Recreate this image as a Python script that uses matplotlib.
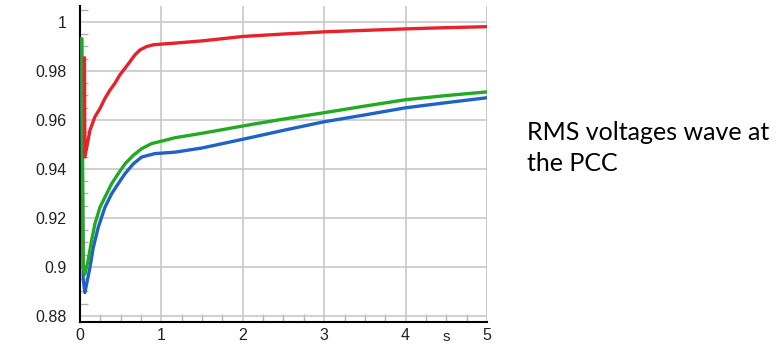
import numpy as np
import matplotlib.pyplot as plt
from matplotlib.ticker import MultipleLocator
from matplotlib.transforms import blended_transform_factory

# time points (s) and RMS voltages
t_red = [0.055, 0.061, 0.123, 0.184, 0.246, 0.307, 0.369, 0.43, 0.49, 0.553, 0.614,
         0.676, 0.737, 0.82, 0.90, 1.0, 1.17, 1.5, 2.0, 2.5, 3.0, 3.5, 4.0, 4.5, 5.0]
v_red = [0.9852, 0.9448, 0.9557, 0.9612, 0.9646, 0.9687, 0.9721, 0.9749, 0.9783, 0.981,
         0.9837, 0.9865, 0.9885, 0.9899, 0.9906, 0.9909, 0.9913, 0.9922, 0.9940, 0.9950,
         0.9959, 0.9965, 0.9971, 0.9976, 0.998]

t_green = [0, 0.025, 0.04, 0.061, 0.10, 0.143, 0.184, 0.246, 0.307, 0.389, 0.47, 0.553,
           0.655, 0.758, 0.88, 1.04, 1.17, 1.5, 2.09, 2.5, 3.0, 3.5, 4.0, 4.5, 5.0]
v_green = [0.993, 0.993, 0.900, 0.897, 0.9025, 0.9107, 0.9175, 0.9243, 0.9284, 0.9339,
           0.938, 0.942, 0.9455, 0.9482, 0.9503, 0.9516, 0.9527, 0.9545, 0.958, 0.9603,
           0.9629, 0.9656, 0.9682, 0.9699, 0.9714]

t_blue = [0, 0.015, 0.04, 0.061, 0.123, 0.164, 0.225, 0.307, 0.389, 0.47, 0.553, 0.655,
          0.758, 0.92, 1.17, 1.5, 2.09, 2.5, 3.0, 3.5, 4.0, 4.5, 5.0]
v_blue = [0.993, 0.993, 0.895, 0.8895, 0.8997, 0.9079, 0.9161, 0.9243, 0.9298, 0.9339,
          0.938, 0.942, 0.9448, 0.9462, 0.9468, 0.9485, 0.9527, 0.9557, 0.9592, 0.962,
          0.9649, 0.967, 0.969]

x_ticks = [0, 1, 2, 3, 4, 5]
y_ticks = [0.88, 0.9, 0.92, 0.94, 0.96, 0.98, 1.0]
y_labels = ['0.88', '0.9', '0.92', '0.94', '0.96', '0.98', '1']

plt.rcParams['font.family'] = ['Liberation Sans', 'DejaVu Sans']

fig = plt.figure(figsize=(7.76, 3.44), dpi=100)
ax = fig.add_axes([0.103, 0.064, 0.5246, 0.919])

ax.plot(t_blue, v_blue, color='#1f63c6', lw=2.4, zorder=3)
ax.plot(t_green, v_green, color='#22aa22', lw=2.4, zorder=4)
ax.plot(t_red, v_red, color='#e8222b', lw=2.4, zorder=5)

ax.set_xlim(0, 5)
ax.set_ylim(0.8775, 1.0065)
ax.set_xticks(x_ticks)
ax.set_xticklabels([str(x) for x in x_ticks])
ax.set_yticks(y_ticks)
ax.set_yticklabels(y_labels)
ax.xaxis.set_minor_locator(MultipleLocator(0.25))
ax.yaxis.set_minor_locator(MultipleLocator(0.005))
ax.grid(True, which='major', color='#c8c8c8', lw=1.2, zorder=0)
ax.tick_params(which='major', length=0, labelsize=11.5, colors='#222222')
ax.tick_params(axis='y', which='major', pad=9.5)
ax.tick_params(axis='x', which='major', pad=4)
ax.tick_params(which='minor', direction='in', length=6, color='#b0b0b0', width=1)

for s in ['top', 'right']:
    ax.spines[s].set_visible(False)
ax.spines['left'].set_linewidth(1.5)
ax.spines['bottom'].set_linewidth(1.5)
ax.axvline(5, color='#c8c8c8', lw=1.2, zorder=0)

# unit label sits between the 4 and 5 tick labels
unit_tr = blended_transform_factory(ax.transData, fig.transFigure)
ax.text(4.5, 1 - 337 / 344, 's', transform=unit_tr, ha='center', va='center',
        fontsize=11, color='#222222')

fig.text(527 / 776, 1 - 148 / 344, 'RMS voltages wave at\nthe PCC', ha='left',
         va='center', fontsize=18, family=['Lato', 'DejaVu Sans'], linespacing=1.45)

fig.savefig('out.png', dpi=100)
